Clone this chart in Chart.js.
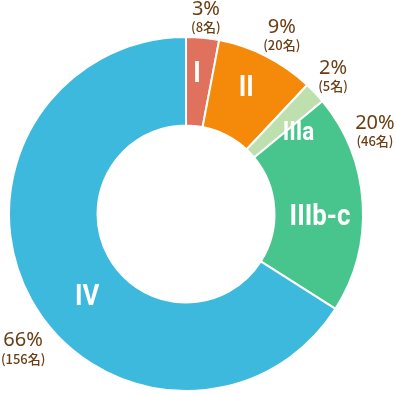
<!DOCTYPE html>
<html>
<head>
<meta charset="utf-8">
<script src="https://cdn.jsdelivr.net/npm/chart.js@4"></script>
<style>
  html, body { margin: 0; padding: 0; background: #fff; }
  #wrap { width: 396px; height: 395px; }
</style>
</head>
<body>
<div id="wrap"><canvas id="stage" width="396" height="395"></canvas></div>
<script>
var stages = ['I', 'II', 'IIIa', 'IIIb-c', 'IV'];
var percents = [3, 9, 2, 20, 66];
var counts = [8, 20, 5, 46, 156];
var colors = ['#E0715C', '#F5890A', '#BEDFAE', '#48C58C', '#3CB9DD'];

// where the labels sit (degrees clockwise from 12 o'clock, px from centre)
var innerDeg = [4.5, 25.5, 54, 91, 230];
var innerR = [141, 140, 139, 134, 129];
var innerSize = [30, 30, 26, 30, 30];
var outerDeg = [5.8, 28.3, 47, 66.5, 230.2];
var outerR = [197, 202, 201, 206, 212];

var labelPlugin = {
  id: 'labels',
  afterDatasetsDraw: function(chart) {
    var ctx = chart.ctx;
    var arcs = chart.getDatasetMeta(0).data;
    ctx.save();
    ctx.textAlign = 'center';
    ctx.textBaseline = 'middle';
    arcs.forEach(function(arc, i) {
      var p = arc.getProps(['x', 'y'], true);
      var a = innerDeg[i] * Math.PI / 180;
      var px = p.x + innerR[i] * Math.sin(a);
      var py = p.y - innerR[i] * Math.cos(a);
      ctx.save();
      ctx.translate(px, py);
      ctx.scale(0.86, 1);
      ctx.fillStyle = '#fff';
      ctx.font = 'bold ' + innerSize[i] + 'px Roboto';
      ctx.fillText(stages[i], 0, 1);
      ctx.restore();

      var b = outerDeg[i] * Math.PI / 180;
      var ox = p.x + outerR[i] * Math.sin(b);
      var oy = p.y - outerR[i] * Math.cos(b);
      ctx.fillStyle = '#6B3D12';
      ctx.font = '20px "Noto Sans", "Noto Sans CJK JP"';
      ctx.fillText(percents[i] + '%', ox, oy - 9);
      ctx.font = '500 13px "Noto Sans CJK JP"';
      ctx.fillText('(' + counts[i] + '名)', ox, oy + 9);
    });
    ctx.restore();
  }
};

new Chart('stage', {
  type: 'doughnut',
  data: {
    labels: stages,
    datasets: [{
      data: percents,
      backgroundColor: colors,
      borderColor: '#fff',
      borderWidth: 2
    }]
  },
  options: {
    responsive: false,
    animation: false,
    cutout: '50%',
    layout: { padding: { left: 8, right: 32, top: 36, bottom: 3 } },
    plugins: {
      legend: { display: false },
      tooltip: { enabled: false }
    }
  },
  plugins: [labelPlugin]
});
</script>
</body>
</html>
